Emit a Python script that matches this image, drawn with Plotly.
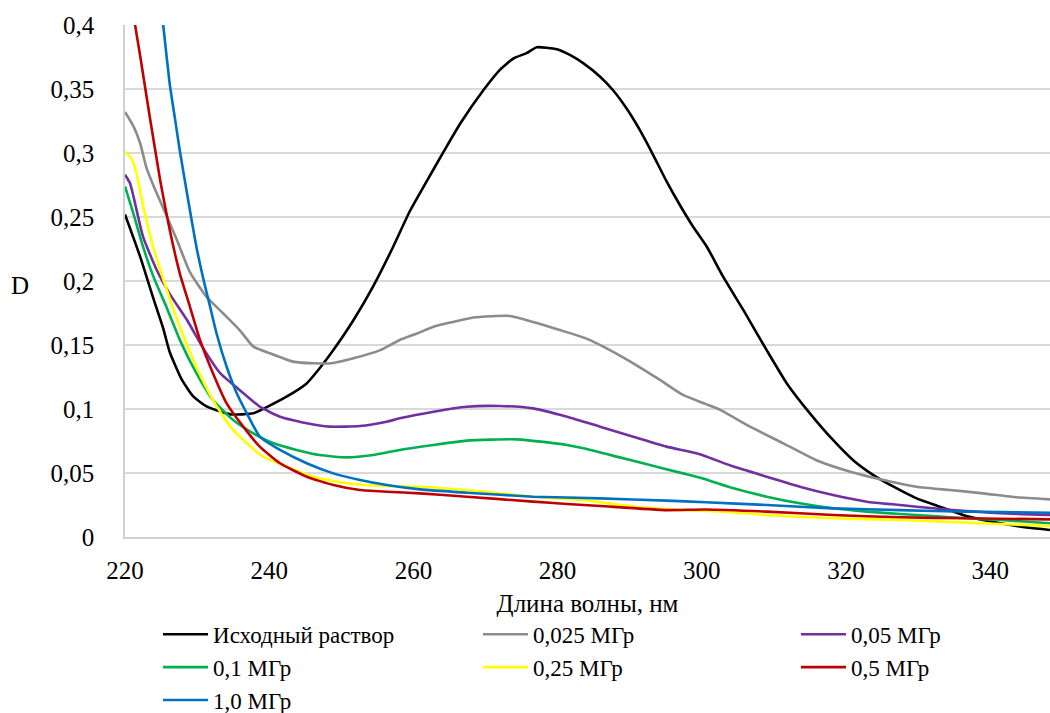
import plotly.graph_objects as go

# UV absorption spectra (optical density D vs wavelength, nm)
x_src = [220, 222.1, 223.9, 225.3, 226.2, 227.9, 229.5, 231.3, 234.6, 237.8, 239.6, 242.4,
         245.2, 247.0, 248.9, 251.7, 254.4, 257.2, 259.5, 261.8, 264.2, 266.5, 269.7, 272.0,
         273.9, 275.7, 277.1, 279.9, 281.7, 283.6, 285.9, 287.7, 289.6, 291.4, 293.3, 295.1,
         297.0, 298.8, 300.7, 303.0, 305.8, 309.0, 311.8, 315.0, 318.2, 321.0, 323.8, 326.6,
         329.8, 333.0, 336.7, 341.4, 346.0, 348.3]
d_src = [0.252, 0.219, 0.187, 0.163, 0.1445, 0.1227, 0.1096, 0.102, 0.0958, 0.0966, 0.1013, 0.1096,
         0.120, 0.1318, 0.146, 0.1695, 0.1956, 0.2268, 0.2545, 0.2775, 0.301, 0.323, 0.349, 0.365,
         0.374, 0.378, 0.3826, 0.381, 0.3766, 0.370, 0.3596, 0.349, 0.3345, 0.318, 0.298, 0.278,
         0.259, 0.2424, 0.2268, 0.203, 0.177, 0.146, 0.120, 0.0966, 0.0758, 0.060, 0.0484, 0.0393,
         0.0302, 0.0237, 0.0164, 0.0107, 0.0068, 0.0055]

x_025 = [220, 221.2, 222.1, 223.0, 224.4, 225.3, 227.2, 229.0, 231.3, 233.6, 235.9, 237.8,
         240.1, 243.3, 246.1, 248.9, 251.7, 255.4, 258.1, 260.5, 262.8, 265.5, 268.3, 273.4,
         276.6, 280.3, 284.0, 286.8, 290.5, 294.2, 297.4, 300.5, 302.5, 306.7, 311.3, 315.9,
         320.6, 325.2, 329.8, 334.4, 339.0, 343.7, 348.3]
d_025 = [0.332, 0.3206, 0.3076, 0.288, 0.2685, 0.257, 0.232, 0.207, 0.1877, 0.1748, 0.1617, 0.1487,
         0.1435, 0.137, 0.1357, 0.136, 0.1396, 0.146, 0.1539, 0.159, 0.1643, 0.168, 0.1715, 0.1727,
         0.168, 0.1617, 0.155, 0.1474, 0.1357, 0.1227, 0.111, 0.104, 0.0995, 0.0862, 0.0732, 0.060,
         0.051, 0.0445, 0.0393, 0.0367, 0.0341, 0.031, 0.0294]

x_05 = [220, 220.7, 222.5, 224.4, 226.2, 228.6, 230.9, 233.2, 235.9, 238.7, 241.5,
        245.2, 248.4, 252.6, 256.3, 258.1, 262.8, 267.4, 272.0, 276.6, 281.3, 285.9, 290.5,
        295.1, 299.7, 304.4, 309.0, 313.6, 318.2, 322.9, 327.5, 332.1, 336.7, 341.4, 348.3]
d_05 = [0.283, 0.2763, 0.2346, 0.2086, 0.190, 0.1695, 0.147, 0.128, 0.1148, 0.1018, 0.094,
        0.0888, 0.0862, 0.0867, 0.0901, 0.0927, 0.0979, 0.1018, 0.1023, 0.1005, 0.094, 0.0862, 0.0784,
        0.0706, 0.0647, 0.055, 0.0471, 0.0393, 0.0328, 0.0276, 0.025, 0.0224, 0.0203, 0.0185, 0.0172]

x_1 = [220, 221.2, 222.5, 223.9, 225.8, 227.6, 229.9, 232.2, 235.0, 237.8, 240.6, 243.8,
       247.0, 250.7, 254.4, 258.1, 262.8, 267.4, 274.3, 278.9, 281.3, 283.6, 288.2, 292.8,
       297.4, 300.5, 304.4, 309.0, 313.6, 318.2, 322.9, 327.5, 332.1, 336.7, 341.4, 348.3]
d_1 = [0.274, 0.252, 0.2268, 0.204, 0.179, 0.154, 0.128, 0.107, 0.0914, 0.081, 0.0732, 0.068,
       0.064, 0.0622, 0.064, 0.068, 0.0719, 0.0753, 0.0763, 0.0737, 0.0719, 0.0693, 0.0628, 0.0562,
       0.0497, 0.0452, 0.038, 0.0315, 0.0263, 0.0224, 0.0198, 0.018, 0.0164, 0.0146, 0.0133, 0.0107]

x_25 = [220, 220.9, 221.6, 222.1, 222.5, 223.2, 223.9, 225.8, 227.6, 229.9, 232.2, 234.6, 236.9,
        239.2, 242.4, 246.1, 250.7, 256.3, 260.9, 267.4, 276.6, 283.6, 290.5, 297.4, 302.5,
        309.0, 318.2, 327.5, 336.7, 348.3]
d_25 = [0.301, 0.2958, 0.284, 0.270, 0.259, 0.242, 0.2268, 0.193, 0.164, 0.133, 0.107, 0.0862, 0.0732,
        0.0627, 0.055, 0.0471, 0.042, 0.0398, 0.0393, 0.0367, 0.0315, 0.0289, 0.0237, 0.021, 0.0200,
        0.0172, 0.0146, 0.0133, 0.0112, 0.0086]

x_5 = [220, 221.4, 222.1, 222.8, 223.5, 224.2, 224.9, 226.2, 227.6, 229.0, 230.4, 232.2,
       234.1, 236.4, 238.7, 241.5, 245.2, 248.9, 252.6, 256.3, 260.9, 267.4, 276.6, 281.3,
       285.9, 295.1, 300.5, 309.0, 318.2, 327.5, 336.7, 348.3]
d_5 = [0.450, 0.400, 0.376, 0.351, 0.326, 0.302, 0.278, 0.240, 0.206, 0.180, 0.154, 0.128,
       0.1044, 0.0862, 0.0706, 0.0576, 0.0471, 0.0406, 0.0367, 0.0354, 0.0341, 0.0315, 0.0276, 0.0258,
       0.0242, 0.021, 0.0215, 0.0198, 0.0172, 0.0154, 0.0146, 0.0138]

x_10 = [220, 222, 224, 225.3, 226.2, 226.9, 227.6, 228.6, 229.9, 230.9, 231.8, 232.7,
        234.1, 235.5, 236.9, 238.7, 241.5, 245.2, 248.9, 252.6, 256.3, 260.9, 267.4, 276.6,
        285.9, 295.1, 300.5, 309.0, 318.2, 327.5, 336.7, 348.3]
d_10 = [0.72, 0.59, 0.47, 0.400, 0.354, 0.328, 0.302, 0.2685, 0.2268, 0.2008, 0.180, 0.159,
        0.133, 0.1123, 0.0966, 0.0784, 0.068, 0.0576, 0.0497, 0.0445, 0.0406, 0.0372, 0.0346, 0.0315,
        0.0302, 0.0284, 0.0272, 0.025, 0.0224, 0.021, 0.0198, 0.019]

names = ["Исходный раствор", "0,025 МГр", "0,05 МГр", "0,1 МГр", "0,25 МГр", "0,5 МГр", "1,0 МГр"]
colors = ["#000000", "#8c8c8c", "#7030a0", "#00b050", "#ffff00", "#c00000", "#0070c0"]
series = [(x_src, d_src), (x_025, d_025), (x_05, d_05), (x_1, d_1),
          (x_25, d_25), (x_5, d_5), (x_10, d_10)]
# legend column of each series (three columns, filled row by row)
legend_of = ["legend", "legend2", "legend3", "legend", "legend2", "legend3", "legend"]

x_ticks = [220, 240, 260, 280, 300, 320, 340]
y_ticks = [0, 0.05, 0.1, 0.15, 0.2, 0.25, 0.3, 0.35, 0.4]
y_labels = ["0", "0,05", "0,1", "0,15", "0,2", "0,25", "0,3", "0,35", "0,4"]

FONT = "Liberation Serif"

fig = go.Figure()
for (xs, ys), name, col, lg in zip(series, names, colors, legend_of):
    fig.add_trace(go.Scatter(
        x=xs, y=ys, name=name, mode="lines", legend=lg,
        line=dict(color=col, width=2.6, shape="spline", smoothing=0.5),
    ))

legend_style = dict(
    orientation="v", xanchor="left", y=-0.148, yanchor="top",
    font=dict(family=FONT, size=23, color="#000000"),
    itemwidth=45, tracegroupgap=0, bgcolor="rgba(0,0,0,0)",
)

fig.update_layout(
    width=1050, height=713,
    margin=dict(l=125, r=0, t=25, b=176, autoexpand=False),
    paper_bgcolor="white", plot_bgcolor="white",
    font=dict(family=FONT, size=25, color="#000000"),
    showlegend=True,
    legend=dict(x=0.0357, **legend_style),
    legend2=dict(x=0.3816, **legend_style),
    legend3=dict(x=0.7254, **legend_style),
    xaxis=dict(
        range=[220, 348.3], tickvals=x_ticks, ticktext=[str(v) for v in x_ticks],
        showgrid=False, zeroline=False,
        showline=True, linecolor="#d0d0d0", linewidth=1.5,
        ticks="", ticklabelstandoff=10,
        title=dict(text="Длина волны, нм", standoff=12,
                   font=dict(family=FONT, size=25, color="#000000")),
    ),
    yaxis=dict(
        range=[0, 0.4], tickvals=y_ticks, ticktext=y_labels,
        showgrid=True, gridcolor="#d9d9d9", gridwidth=1.5, zeroline=False,
        showline=True, linecolor="#d0d0d0", linewidth=1.5,
        ticks="", ticklabelstandoff=24,
    ),
    annotations=[dict(
        text="D", xref="paper", yref="paper", x=-0.113, y=0.492,
        xanchor="center", yanchor="middle", showarrow=False,
        font=dict(family=FONT, size=25, color="#000000"),
    )],
)

fig.write_html("out.html")
